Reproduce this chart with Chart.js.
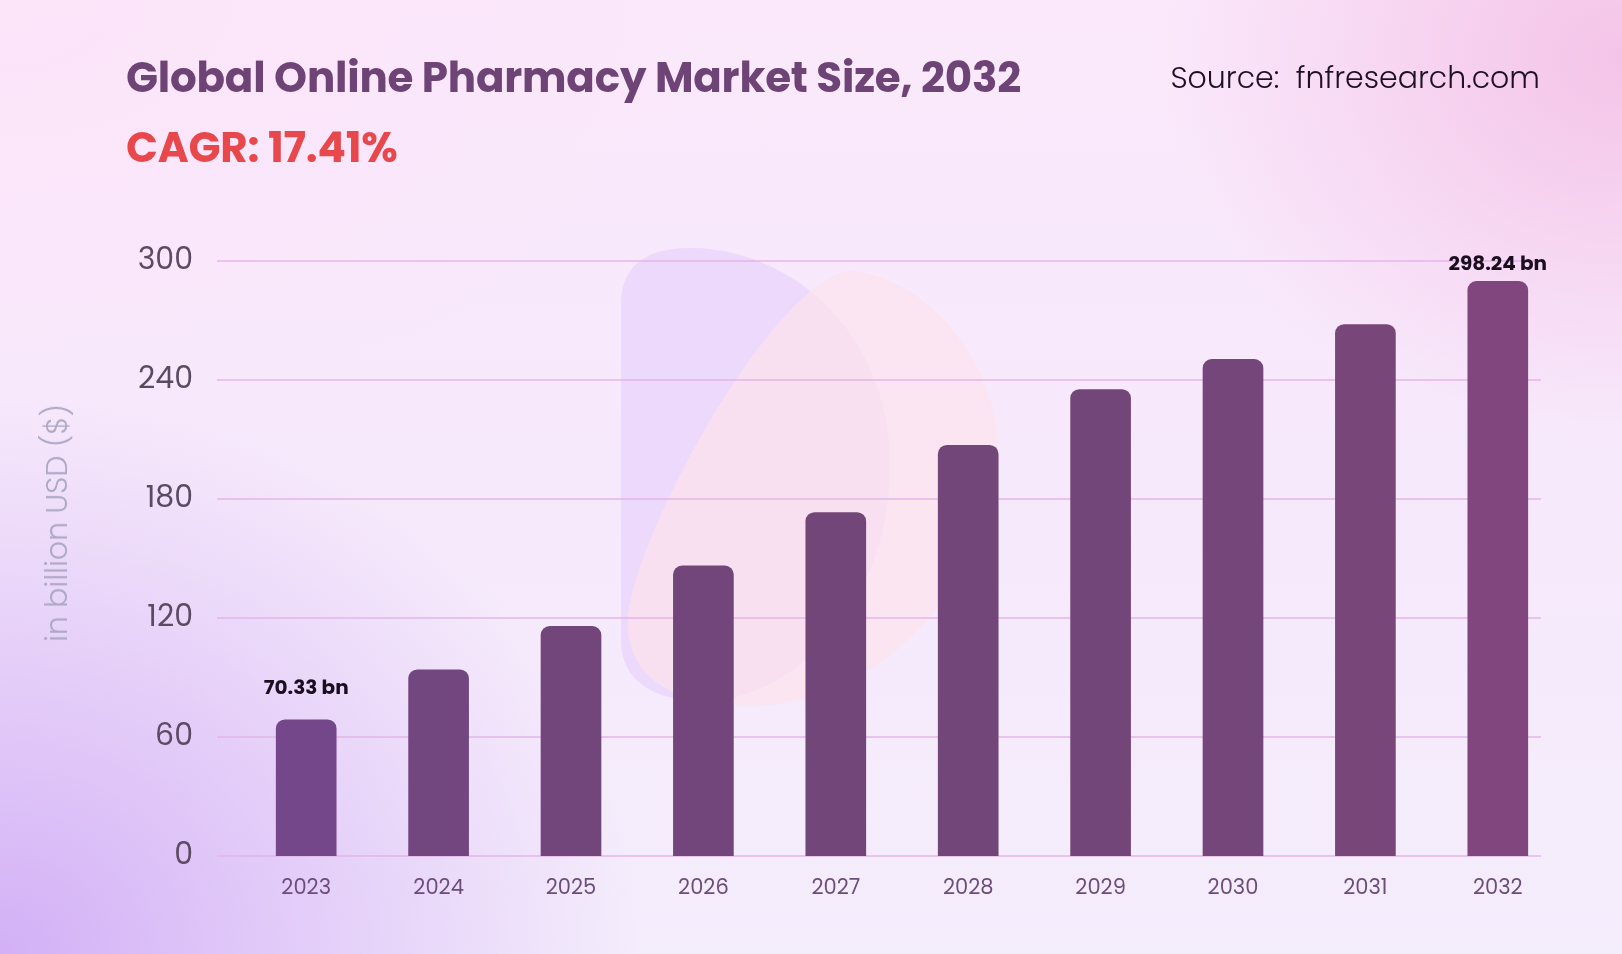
<!DOCTYPE html>
<html>
<head>
<meta charset="utf-8">
<script src="https://cdn.jsdelivr.net/npm/chart.js@4.4.1/dist/chart.umd.min.js"></script>
<style>
  html, body { margin: 0; padding: 0; }
  body {
    width: 1622px; height: 954px; overflow: hidden;
    font-family: Poppins, Inter, "Noto Sans", sans-serif;
    background:
      radial-gradient(ellipse 460px 380px at 100% 6%, rgba(244,196,232,1) 0%, rgba(244,196,232,0) 100%),
      radial-gradient(ellipse 640px 560px at 0% 100%, rgba(211,176,246,1) 0%, rgba(211,176,246,0) 100%),
      radial-gradient(ellipse 700px 420px at 0% 0%, rgba(252,228,249,1) 0%, rgba(252,228,249,0) 100%),
      linear-gradient(180deg, #fbe8fb 0%, #f6e9fb 55%, #f4edfc 100%);
  }
  #wrap { position: relative; width: 1622px; height: 954px; }
  #chart { position: absolute; left: 0; top: 0; }
  .txt { position: absolute; white-space: nowrap; line-height: 1; transform: translateY(-50%); }
  #title { left: 126px; top: 78px; font-size: 42px; font-weight: 700; color: #6e4476; letter-spacing: -0.2px; }
  #cagr { left: 126px; top: 148px; font-size: 42px; font-weight: 700; color: #e8474b; letter-spacing: -0.2px; }
  #source { right: 82px; top: 78px; font-size: 30px; font-weight: 300; color: #1e0f24; }
  #ytitle { left: 57px; top: 523px; font-size: 30px; font-weight: 300; color: #aca8c4;
    transform: translate(-50%, -50%) rotate(-90deg); }
</style>
</head>
<body>
<div id="wrap">
  <canvas id="chart" width="1622" height="954"></canvas>
  <div class="txt" id="title">Global Online Pharmacy Market Size, 2032</div>
  <div class="txt" id="cagr">CAGR: 17.41%</div>
  <div class="txt" id="source">Source:&nbsp; fnfresearch.com</div>
  <div class="txt" id="ytitle">in billion USD ($)</div>
</div>
<script>
var years = ['2023', '2024', '2025', '2026', '2027', '2028', '2029', '2030', '2031', '2032'];
var marketSize = [68.7, 93.9, 115.8, 146.3, 173.2, 207.1, 235.2, 250.4, 268.0, 289.7];
var valueLabels = ['70.33 bn', '', '', '', '', '', '', '', '', '298.24 bn'];
var yTicks = [0, 60, 120, 180, 240, 300];

var barColors = ['#74468a', '#72467f', '#72467b', '#72467a', '#724679',
                 '#724679', '#724679', '#744679', '#784679', '#82467f'];

// soft shapes behind the plot
var backdrop = {
  id: 'backdrop',
  beforeDraw: function (chart) {
    var ctx = chart.ctx;
    ctx.save();
    ctx.fillStyle = 'rgba(234,212,252,0.8)';
    ctx.beginPath();
    ctx.moveTo(621, 640);
    ctx.lineTo(621, 305);
    ctx.bezierCurveTo(621, 262, 650, 247, 695, 248);
    ctx.bezierCurveTo(800, 252, 890, 340, 890, 465);
    ctx.bezierCurveTo(890, 600, 800, 690, 720, 700);
    ctx.bezierCurveTo(660, 705, 621, 685, 621, 640);
    ctx.fill();

    ctx.fillStyle = 'rgba(252,226,237,0.7)';
    ctx.beginPath();
    ctx.moveTo(848, 271);
    ctx.bezierCurveTo(930, 275, 1000, 370, 998, 450);
    ctx.bezierCurveTo(995, 580, 880, 700, 765, 705);
    ctx.bezierCurveTo(680, 710, 625, 680, 628, 620);
    ctx.bezierCurveTo(632, 540, 770, 285, 848, 271);
    ctx.fill();
    ctx.restore();
  }
};

// horizontal grid lines, a bit wider on the left than the bars' area
var gridLines = {
  id: 'gridLines',
  beforeDatasetsDraw: function (chart) {
    var ctx = chart.ctx;
    var y = chart.scales.y;
    var area = chart.chartArea;
    ctx.save();
    ctx.strokeStyle = 'rgba(226,178,232,0.7)';
    ctx.lineWidth = 2;
    y.ticks.forEach(function (t) {
      var py = Math.round(y.getPixelForValue(t.value));
      ctx.beginPath();
      ctx.moveTo(area.left - 23, py);
      ctx.lineTo(area.right - 23, py);
      ctx.stroke();
    });
    ctx.restore();
  }
};

var barLabels = {
  id: 'barLabels',
  afterDatasetsDraw: function (chart) {
    var ctx = chart.ctx;
    var meta = chart.getDatasetMeta(0);
    ctx.save();
    ctx.font = '700 20px Poppins, Inter, "Noto Sans", sans-serif';
    ctx.fillStyle = '#1b0e1f';
    ctx.textAlign = 'center';
    ctx.textBaseline = 'middle';
    meta.data.forEach(function (bar, i) {
      if (!valueLabels[i]) return;
      var ly = Math.max(bar.y - 31, chart.chartArea.top + 4);
      ctx.fillText(valueLabels[i], bar.x, ly);
    });
    ctx.restore();
  }
};

var ctx = document.getElementById('chart').getContext('2d');
new Chart(ctx, {
  type: 'bar',
  data: {
    labels: years,
    datasets: [{
      data: marketSize,
      backgroundColor: barColors,
      borderRadius: 9,
      barThickness: 60
    }]
  },
  options: {
    responsive: false,
    animation: false,
    devicePixelRatio: 1,
    layout: { padding: { top: 261, right: 58, bottom: 0, left: 0 } },
    plugins: {
      legend: { display: false },
      tooltip: { enabled: false }
    },
    scales: {
      x: {
        grid: { display: false },
        border: { display: false },
        ticks: {
          color: '#6c4d7a',
          font: { family: 'Poppins, Inter, "Noto Sans", sans-serif', size: 21 },
          padding: 12,
          maxRotation: 0
        },
        afterFit: function (scale) { scale.height = 98; }
      },
      y: {
        min: 0,
        max: 300,
        afterBuildTicks: function (scale) {
          scale.ticks = yTicks.map(function (v) { return { value: v }; });
        },
        grid: { display: false },
        border: { display: false },
        ticks: {
          color: '#5b4a62',
          font: { family: 'Poppins, Inter, "Noto Sans", sans-serif', size: 30 },
          padding: 39
        },
        afterFit: function (scale) { scale.width = 240; }
      }
    }
  },
  plugins: [backdrop, gridLines, barLabels]
});
</script>
</body>
</html>
